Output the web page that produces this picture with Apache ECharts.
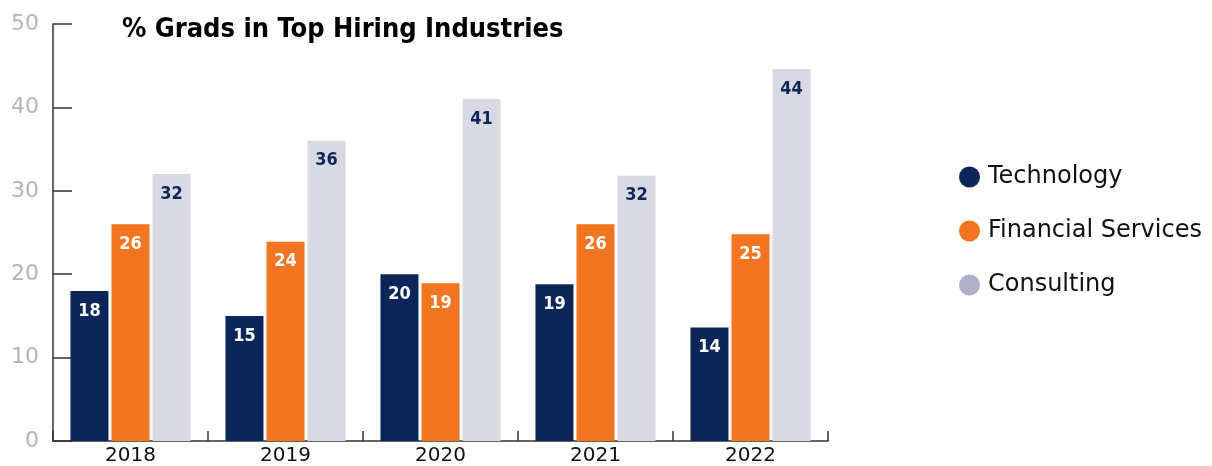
<!DOCTYPE html>
<html>
<head>
<meta charset="utf-8">
<script src="https://cdn.jsdelivr.net/npm/echarts@6/dist/echarts.min.js"></script>
<style>
html,body{margin:0;padding:0;background:#fff;}
#chart{width:1212px;height:466px;}
</style>
</head>
<body>
<div id="chart"></div>
<script>
var years = ['2018', '2019', '2020', '2021', '2022'];
var technology = [18, 15, 20, 18.8, 13.6];
var financial = [26, 23.9, 18.9, 26, 24.8];
var consulting = [32, 36, 41, 31.8, 44.6];
var technologyLabels = [18, 15, 20, 19, 14];
var financialLabels = [26, 24, 19, 26, 25];
var consultingLabels = [32, 36, 41, 32, 44];
var yTicks = [0, 10, 20, 30, 40, 50];

var chart = echarts.init(document.getElementById('chart'));
var labelFont = "'Liberation Sans Narrow', 'DejaVu Sans Condensed', sans-serif";
var plainFont = "'DejaVu Sans', sans-serif";
function mkSeries(name, data, labels, color, labelColor) {
  return {
    name: name,
    type: 'bar',
    data: data,
    barWidth: 38,
    barGap: '8%',
    itemStyle: { color: color },
    label: {
      show: true,
      position: 'insideTop',
      distance: 11,
      color: labelColor,
      fontFamily: labelFont,
      fontWeight: 'bold',
      fontSize: 18,
      formatter: function (p) { return labels[p.dataIndex]; }
    },
    emphasis: { disabled: true }
  };
}
chart.setOption({
  animation: false,
  title: {
    text: '% Grads in Top Hiring Industries',
    left: 117,
    top: 11,
    textStyle: { fontFamily: labelFont, fontWeight: 'bold', fontSize: 27, color: '#000' }
  },
  legend: {
    orient: 'vertical',
    left: 954,
    top: 160,
    itemGap: 30,
    itemWidth: 21,
    itemHeight: 21,
    icon: 'circle',
    textStyle: { fontFamily: plainFont, fontSize: 24, lineHeight: 24, color: '#111', padding: [0, 0, 0, 3] },
    data: [
      { name: 'Technology', itemStyle: { color: '#0c2659' } },
      { name: 'Financial Services', itemStyle: { color: '#f37521' } },
      { name: 'Consulting', itemStyle: { color: '#b0b1c9' } }
    ]
  },
  grid: { left: 53, top: 24, width: 775, height: 418, containLabel: false },
  xAxis: {
    type: 'category',
    data: years,
    axisLine: { show: true, lineStyle: { color: '#333', width: 1.5 } },
    axisTick: { show: true, inside: true, length: 10, lineStyle: { color: '#333', width: 1.5 } },
    axisLabel: { color: '#111', fontSize: 20, margin: 5, fontFamily: plainFont }
  },
  yAxis: {
    type: 'value',
    min: 0,
    max: 50,
    interval: 10,
    splitLine: { show: false },
    axisLine: { show: true, lineStyle: { color: '#333', width: 1.5 } },
    axisTick: { show: true, inside: true, length: 19, lineStyle: { color: '#333', width: 1.5 } },
    axisLabel: {
      color: '#b5b5b5', fontSize: 22, margin: 14, fontFamily: plainFont,
      formatter: function (v) { return yTicks.indexOf(v) >= 0 ? String(v) : ''; }
    }
  },
  series: [
    mkSeries('Technology', technology, technologyLabels, '#0c2659', '#ffffff'),
    mkSeries('Financial Services', financial, financialLabels, '#f37521', '#ffffff'),
    mkSeries('Consulting', consulting, consultingLabels, '#d9d9e3', '#0c2659')
  ]
});
</script>
</body>
</html>
